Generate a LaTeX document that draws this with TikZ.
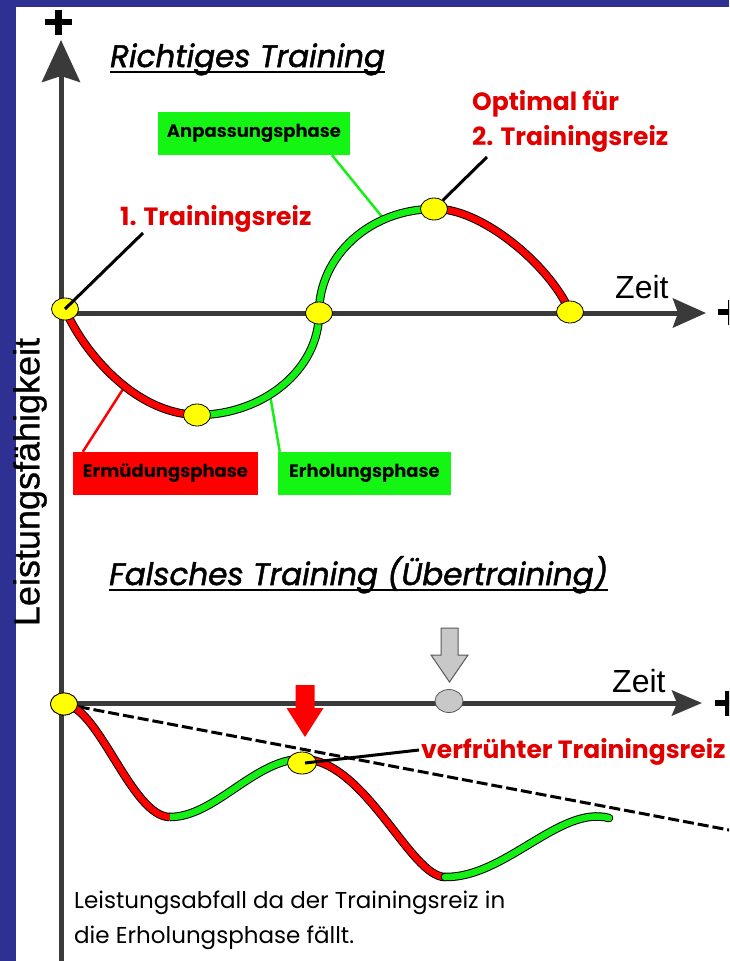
\documentclass[tikz,border=0pt]{standalone}
\usepackage{fontspec}
\setmainfont{Liberation Sans}
\newfontfamily\geofont{Poppins}
\newfontfamily\geotitle[ItalicFeatures={FakeBold=1.6}]{Poppins}
\newfontfamily\helfont{Liberation Sans}
\newfontfamily\helbold[FakeBold=0.8]{Liberation Sans}
\usetikzlibrary{arrows.meta,shapes.geometric}
\definecolor{frameblue}{RGB}{46,49,146}
\definecolor{axisgray}{RGB}{58,58,58}
\definecolor{curvered}{RGB}{255,0,0}
\definecolor{curvegreen}{RGB}{20,240,20}
\definecolor{boxred}{RGB}{255,0,0}
\definecolor{boxgreen}{RGB}{20,245,20}
\definecolor{labelred}{RGB}{225,0,0}
\definecolor{dotyellow}{RGB}{255,255,0}
\definecolor{dotgray}{RGB}{200,200,200}
\begin{document}
\begin{tikzpicture}[x=1pt,y=-1pt,
  axisline/.style={line width=5pt, draw=axisgray},
  plusbar/.style={line width=6.5pt, draw=black},
  redcurve/.style={line width=1pt, draw=black, double=curvered, double distance=6.5pt},
  greencurve/.style={line width=1pt, draw=black, double=curvegreen, double distance=6.5pt},
  ydot/.style={ellipse, draw=black, line width=0.8pt, fill=dotyellow, minimum width=27pt, minimum height=22pt, inner sep=0pt},
  gdot/.style={ydot, fill=dotgray, draw=black!65, minimum width=28pt, minimum height=23pt},
  pointer/.style={line width=3pt, draw=black},
  gpointer/.style={line width=2.5pt, draw=curvegreen},
  rpointer/.style={line width=2.5pt, draw=curvered},
  phasebox/.style={rectangle, inner sep=0pt, font=\geofont\bfseries\fontsize{18}{20}\selectfont, text=black},
  redlabel/.style={inner sep=0pt, font=\geofont\bfseries\fontsize{25}{30}\selectfont, text=labelred},
  titletext/.style={inner sep=0pt, font=\geotitle\itshape\fontsize{31}{36}\selectfont},
  uline/.style={line width=2.5pt, draw=black},
  zeittext/.style={inner sep=0pt, font=\helfont\fontsize{32}{36}\selectfont},
  ylabtext/.style={inner sep=0pt, font=\helbold\fontsize{36}{40}\selectfont},
  captext/.style={inner sep=0pt, font=\geofont\fontsize{23}{26}\selectfont},
  grayblock/.style={fill=dotgray, draw=black!65, line width=1pt},
  redblock/.style={fill=curvered},
  dashline/.style={line width=3pt, draw=black, dash pattern=on 11pt off 4pt},
  plusmark/.pic={\draw[plusbar] (-13.5,0) -- (13.5,0); \draw[plusbar] (0,-12.5) -- (0,12.5);}
]
\clip (0,0) rectangle (729,961);
\fill[white] (0,0) rectangle (729,961);
\fill[frameblue] (0,0) rectangle (16,961);
\fill[frameblue] (0,0) rectangle (729,7);

% axes
\coordinate (yb) at (61,961);
\coordinate (yt) at (61,40);
\coordinate (o1) at (59,313);
\coordinate (x1) at (706,313);
\coordinate (o2) at (59,703);
\coordinate (x2) at (702,703);
\draw[axisline,-{Stealth[length=42pt,width=38pt,inset=6pt]}] (yb) -- (yt);
\draw[axisline,-{Stealth[length=33pt,width=29pt,inset=5pt]}] (o1) -- (x1);
\draw[axisline,-{Stealth[length=30pt,width=25pt,inset=5pt]}] (o2) -- (x2);
\pic at (58.5,22) {plusmark};
\pic at (731,312) {plusmark};
\pic at (728,703) {plusmark};

% titles and axis labels
\node[titletext, anchor=base west] (t1) at (110,67) {Richtiges Training};
\draw[uline] ([yshift=-5pt]t1.base west) -- ([yshift=-5pt]t1.base east);
\node[titletext, anchor=base west] (t2) at (109,585) {Falsches Training (Übertraining)};
\draw[uline] ([yshift=-5pt]t2.base west) -- ([yshift=-5pt]t2.base east);
\node[ylabtext, rotate=90] (yl) at (30,482) {Leistungsfähigkeit};
\node[zeittext, anchor=base west] (z1) at (615,298) {Zeit};
\node[zeittext, anchor=base west] (z2) at (612,692) {Zeit};

% phase boxes
\node[phasebox, fill=boxgreen, minimum width=192pt, minimum height=43pt] (ap) at (254,133.5) {Anpassungsphase};
\node[phasebox, fill=boxred, minimum width=185pt, minimum height=43pt] (em) at (165.5,473.5) {Ermüdungsphase};
\node[phasebox, fill=boxgreen, minimum width=173pt, minimum height=43pt] (er) at (364.5,473.5) {Erholungsphase};

% upper curve points
\coordinate (c0) at (65,309);
\coordinate (c1) at (197,415);
\coordinate (c2) at (319,313);
\coordinate (c3) at (434,209);
\coordinate (c4) at (570,312);
\coordinate (gA) at (383,218);
\coordinate (rE) at (125,386);
\coordinate (gE) at (270,395);

% phase pointers
\draw[gpointer] ([xshift=78pt]ap.south) -- (gA);
\draw[rpointer] ([xshift=10pt]em.north west) -- (rE);
\draw[gpointer] ([xshift=2pt]er.north west) -- (gE);

% upper curve
\draw[redcurve] (c0) .. controls (80,345) and (130,413) .. (c1);
\draw[greencurve] (c1) .. controls (264,415) and (319,369) .. (c2) .. controls (319,256) and (370,209) .. (c3);
\draw[redcurve] (c3) .. controls (480,207) and (550,265) .. (c4);

\node[ydot] (d0) at (c0) {};
\node[ydot] (d1) at (c1) {};
\node[ydot] (d2) at (c2) {};
\node[ydot] (d3) at (c3) {};
\node[ydot] (d4) at (c4) {};

% upper labels
\node[redlabel, anchor=base west] (l1) at (120,225) {1. Trainingsreiz};
\node[redlabel, anchor=base west] (l2a) at (472,110) {Optimal für};
\node[redlabel, anchor=base west] (l2b) at (472,145) {2. Trainingsreiz};
\coordinate (p1s) at (143,233);
\coordinate (p2s) at (487,157);
\draw[pointer] (p1s) -- (d0.center);
\draw[pointer] (p2s) -- (d3);

% lower part
\node[ydot] (b0) at (64,704) {};
\coordinate (de) at (745,833);
\draw[dashline] (b0.center) -- (de);

\coordinate (e0) at (65,704);
\coordinate (e1) at (170,817);
\coordinate (e2) at (302,759);
\coordinate (e3) at (445,877);
\coordinate (e4) at (609,818);
\draw[redcurve] (e0) .. controls (100,709) and (132,817) .. (e1);
\draw[greencurve] (e1) .. controls (215,817) and (255,759) .. (e2);
\draw[redcurve] (e2) .. controls (365,759) and (410,877) .. (e3);
\draw[greencurve, line cap=round] (e3) .. controls (505,878) and (560,805) .. (e4);

\node[ydot] (b0top) at (64,704) {};
\node[ydot, minimum width=29pt] (b1) at (302,763) {};
\node[gdot] (gd) at (449,701) {};

\coordinate (gat) at (449.5,682);
\draw[grayblock] (gat) -- ++(-18.5,-27) -- ++(10,0) -- ++(0,-27) -- ++(17,0) -- ++(0,27) -- ++(10,0) -- cycle;
\coordinate (rat) at (305,737);
\fill[redblock] (rat) -- ++(-18.5,-29) -- ++(9,0) -- ++(0,-23) -- ++(19,0) -- ++(0,23) -- ++(9,0) -- cycle;

\node[redlabel, anchor=base west] (l3) at (421,758) {verfrühter Trainingsreiz};
\coordinate (vs) at (419,750);
\draw[pointer] (vs) -- ([xshift=3pt]b1.center);

\node[captext, anchor=base west] (cap1) at (74,908) {Leistungsabfall da der Trainingsreiz in};
\node[captext, anchor=base west] (cap2) at (74,943) {die Erholungsphase fällt.};
\end{tikzpicture}
\end{document}
